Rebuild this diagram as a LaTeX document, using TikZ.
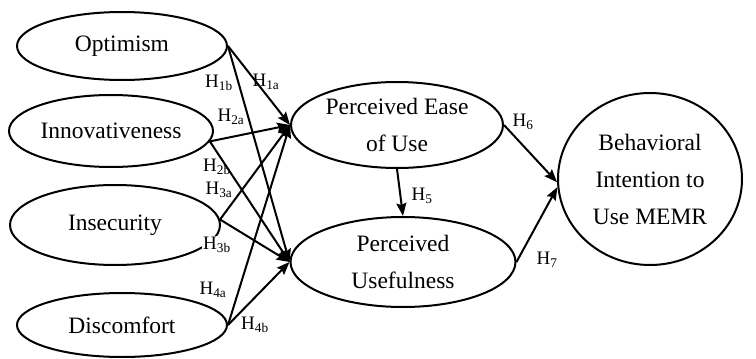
\documentclass[tikz,border=0pt]{standalone}
\usepackage{fontspec}
\setmainfont{Liberation Serif}
\usetikzlibrary{positioning,arrows.meta,shapes.geometric}

\begin{document}
\begin{tikzpicture}[x=1pt, y=-1pt,
    >={Stealth[length=13pt,width=10pt,inset=2pt]}, line width=2pt,
    construct/.style={draw, ellipse, inner sep=0pt, align=center,
      font=\fontsize{23.5}{37}\selectfont},
    hyp/.style={font=\fontsize{19}{21}\selectfont, fill=white, inner sep=1pt}]
  \useasboundingbox (0,0) rectangle (756,359);
  % antecedents
  \node[construct, minimum width=210pt, minimum height=68pt] (opt) at (122,46) {Optimism};
  \node[construct, minimum width=204pt, minimum height=72pt] (inn) at (111,131) {Innovativeness};
  \node[construct, minimum width=210pt, minimum height=80pt] (ins) at (115,225) {Insecurity};
  \node[construct, minimum width=210pt, minimum height=64pt] (dis) at (122,325) {Discomfort};
  % mediators and outcome
  \node[construct, minimum width=212pt, minimum height=86pt] (peu) at (397,125) {Perceived Ease\\of Use};
  \node[construct, minimum width=225pt, minimum height=90pt] (pu) at (403,262) {Perceived\\Usefulness};
  \node[construct, minimum width=184pt, minimum height=172pt] (bi) at (650,179) {Behavioral\\Intention to\\Use MEMR};
  % hypothesis labels
  \node[hyp] (h1a) at (266,82) {H\textsubscript{1a}};
  \node[hyp] (h1b) at (219,83) {H\textsubscript{1b}};
  \node[hyp] (h2a) at (231,117) {H\textsubscript{2a}};
  \node[hyp] (h2b) at (217,167) {H\textsubscript{2b}};
  \node[hyp] (h3a) at (219,190) {H\textsubscript{3a}};
  \node[hyp] (h3b) at (217,245) {H\textsubscript{3b}};
  \node[hyp] (h4a) at (213,290) {H\textsubscript{4a}};
  \node[hyp] (h4b) at (255,325) {H\textsubscript{4b}};
  \node[hyp] (h5) at (422,196) {H\textsubscript{5}};
  \node[hyp] (h6) at (523,122) {H\textsubscript{6}};
  \node[hyp] (h7) at (547,260) {H\textsubscript{7}};
  \path[->]
    (opt.east) edge (peu.west)
    (opt.east) edge (pu.west)
    (inn.-6) edge (peu.west)
    (inn.-6) edge (pu.west)
    (ins.3) edge (peu.west)
    (ins.3) edge (pu.west)
    (dis.east) edge (peu.west)
    (dis.east) edge (pu.west)
    (peu.south) edge (pu.north)
    (peu.east) edge (bi.182)
    (pu.east) edge (bi.185);
\end{tikzpicture}
\end{document}
